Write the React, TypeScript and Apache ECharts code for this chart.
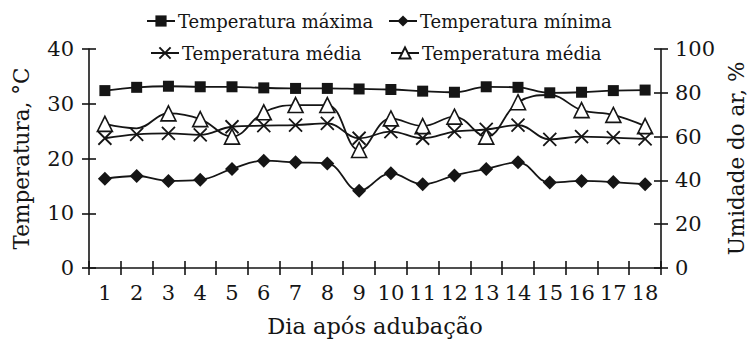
import React, { useEffect, useRef } from "react";
import * as echarts from "echarts";

const days = ["1","2","3","4","5","6","7","8","9","10","11","12","13","14","15","16","17","18"];
const tempMax = [32.4, 33.0, 33.2, 33.1, 33.1, 32.9, 32.8, 32.8, 32.7, 32.6, 32.3, 32.1, 33.1, 33.0, 32.0, 32.1, 32.4, 32.5];
const tempMin = [16.3, 16.8, 15.9, 16.1, 18.1, 19.6, 19.3, 19.1, 14.1, 17.3, 15.3, 16.9, 18.1, 19.3, 15.6, 15.9, 15.7, 15.3];
const tempMed = [23.7, 24.4, 24.6, 24.3, 25.8, 26.0, 26.1, 26.4, 23.7, 24.9, 23.7, 24.9, 25.3, 26.1, 23.5, 24.0, 23.8, 23.6];
const humidity = [65.8, 63.8, 70.6, 68.0, 60.0, 71.1, 74.4, 74.4, 53.9, 68.3, 64.8, 69.1, 60.0, 75.7, 79.0, 72.1, 69.9, 64.8];
const humidityHiddenMarkers = [1, 14];

const names = ["Temperatura máxima", "Temperatura mínima", "Temperatura média", "Temperatura média "];

const FONT = "DejaVu Serif";
const INK = "#151515";

export default function App() {
  const ref = useRef<HTMLDivElement>(null);
  useEffect(() => {
    if (!ref.current) return;
    const chart = echarts.init(ref.current, undefined, { renderer: "svg" });
    const axisLine = { show: true, lineStyle: { color: INK, width: 1.6 } };
    const tickOut = { show: true, inside: false, length: 7, lineStyle: { color: INK, width: 1.6 } };
    const tickIn = { show: true, inside: true, length: 7, lineStyle: { color: INK, width: 1.6 } };
    const label = { color: INK, fontFamily: FONT, fontSize: 21 };
    const nameStyle = { color: INK, fontFamily: FONT, fontSize: 21.5 };
    const legendBase = {
      itemWidth: 28,
      itemHeight: 14,
      textStyle: { color: INK, fontFamily: FONT, fontSize: 18, padding: [0, 0, 0, -2] },
      selectedMode: false,
    };
    const lineStyle = { color: INK, width: 1.8 };
    chart.setOption({
      animation: false,
      backgroundColor: "#ffffff",
      grid: { left: 89, right: 89, top: 49, bottom: 73, outerBoundsMode: "none", containLabel: false },
      legend: [
        { ...legendBase, data: [names[0]], left: 141, top: 7 },
        { ...legendBase, data: [names[1]], left: 383, top: 7 },
        { ...legendBase, data: [names[2]], left: 145, top: 39 },
        { ...legendBase, data: [names[3]], left: 385, top: 39 },
      ],
      xAxis: [
        {
          type: "category",
          data: days,
          position: "bottom",
          boundaryGap: true,
          axisLine,
          axisTick: tickOut,
          axisLabel: { ...label, margin: 14, interval: 0, hideOverlap: false },
          splitLine: { show: false },
          name: "Dia após adubação",
          nameLocation: "middle",
          nameGap: 46,
          nameTextStyle: { ...nameStyle, fontSize: 22.5 },
        },
        {
          type: "category",
          data: days,
          position: "bottom",
          offset: 0,
          boundaryGap: true,
          axisLine: { show: false },
          axisTick: tickIn,
          axisLabel: { show: false },
          splitLine: { show: false },
        },
      ],
      yAxis: [
        {
          type: "value",
          position: "left",
          offset: 0,
          min: 0,
          max: 40,
          interval: 10,
          axisLine,
          axisTick: tickOut,
          axisLabel: { ...label, margin: 15 },
          splitLine: { show: false },
          name: "Temperatura, °C",
          nameLocation: "middle",
          nameRotate: 90,
          nameGap: 57,
          nameTextStyle: nameStyle,
        },
        {
          type: "value",
          position: "right",
          offset: 0,
          min: 0,
          max: 100,
          interval: 20,
          axisLine,
          axisTick: tickOut,
          axisLabel: { ...label, margin: 14 },
          splitLine: { show: false },
          name: "Umidade do ar, %",
          nameLocation: "middle",
          nameRotate: 90,
          nameGap: 57,
          nameTextStyle: nameStyle,
        },
        {
          type: "value",
          position: "left",
          offset: 0,
          min: 0,
          max: 40,
          interval: 10,
          axisLine: { show: false },
          axisTick: tickIn,
          axisLabel: { show: false },
          splitLine: { show: false },
        },
        {
          type: "value",
          position: "right",
          offset: 0,
          min: 0,
          max: 100,
          interval: 20,
          axisLine: { show: false },
          axisTick: tickIn,
          axisLabel: { show: false },
          splitLine: { show: false },
        },
      ],
      series: [
        {
          name: names[3],
          type: "line",
          yAxisIndex: 1,
          smooth: 0.4,
          data: humidity.map((v, i) => (humidityHiddenMarkers.includes(i) ? { value: v, symbol: "none" } : v)),
          symbol: "triangle",
          symbolSize: 15,
          lineStyle,
          itemStyle: { color: "#ffffff", borderColor: INK, borderWidth: 1.6 },
          z: 2,
        },
        {
          name: names[2],
          type: "line",
          yAxisIndex: 0,
          smooth: 0.4,
          data: tempMed,
          symbol: "path://M0,0L10,10M10,0L0,10",
          symbolSize: 13,
          lineStyle,
          itemStyle: { color: "none", borderColor: INK, borderWidth: 1.8 },
          z: 3,
        },
        {
          name: names[1],
          type: "line",
          yAxisIndex: 0,
          smooth: 0.4,
          data: tempMin,
          symbol: "diamond",
          symbolSize: 14,
          lineStyle,
          itemStyle: { color: INK },
          z: 4,
        },
        {
          name: names[0],
          type: "line",
          yAxisIndex: 0,
          smooth: 0.4,
          data: tempMax,
          symbol: "rect",
          symbolSize: 11,
          lineStyle,
          itemStyle: { color: INK },
          z: 5,
        },
      ],
    });
    return () => chart.dispose();
  }, []);
  return <div ref={ref} style={{ width: 750, height: 341, position: "absolute", left: 0, top: 0 }} />;
}
